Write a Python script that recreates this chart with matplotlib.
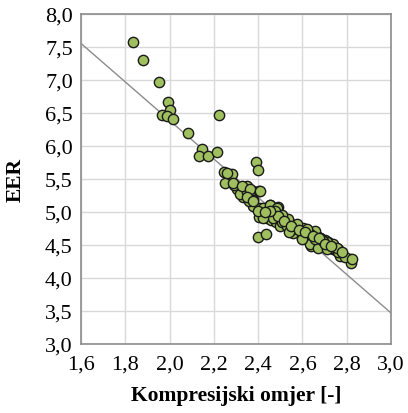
import numpy as np
import matplotlib.pyplot as plt

# compression ratio vs EER
kompresija = [1.836, 1.881, 1.951, 1.991, 2.002, 1.967, 1.99, 2.017, 2.223, 2.082,
              2.148, 2.134, 2.175, 2.216, 2.247, 2.28, 2.25, 2.306, 2.348, 2.333,
              2.378, 2.405, 2.39, 2.398, 2.376, 2.398, 2.434,
              2.438, 2.469, 2.453, 2.49, 2.51, 2.528, 2.559, 2.589, 2.62, 2.64,
              2.664, 2.686, 2.716, 2.755, 2.77, 2.815, 2.822, 2.597, 2.64, 2.559,
              2.54, 2.42, 2.405, 2.44, 2.46, 2.48, 2.50, 2.376, 2.36, 2.32,
              2.29, 2.35, 2.66, 2.70, 2.72, 2.74, 2.656, 2.59, 2.53, 2.57,
              2.68, 2.405, 2.41, 2.47, 2.54, 2.605, 2.625, 2.69, 2.74, 2.76,
              2.258, 2.288, 2.326, 2.363, 2.409, 2.348, 2.378, 2.423, 2.453, 2.484,
              2.439, 2.469, 2.506, 2.529, 2.559, 2.597, 2.635, 2.68, 2.71, 2.74,
              2.762, 2.792, 2.823, 2.635, 2.597, 2.672, 2.71, 2.62, 2.574, 2.536,
              2.506, 2.476, 2.423, 2.401, 2.54, 2.657, 2.694, 2.755, 2.778, 2.49,
              2.515, 2.55, 2.585, 2.61, 2.65, 2.675, 2.70, 2.73, 2.455, 2.43]
eer = [7.58, 7.30, 6.97, 6.66, 6.54, 6.47, 6.45, 6.41, 6.47, 6.19,
       5.95, 5.84, 5.84, 5.90, 5.61, 5.57, 5.44, 5.34, 5.39, 5.22,
       5.32, 5.32, 5.76, 5.63, 5.18, 4.62, 4.67,
       5.04, 4.96, 5.10, 5.08, 4.90, 4.81, 4.76, 4.71, 4.69, 4.56,
       4.64, 4.51, 4.54, 4.41, 4.33, 4.28, 4.23, 4.61, 4.48, 4.68,
       4.75, 4.96, 5.01, 4.91, 4.88, 4.85, 4.78, 5.09, 5.17, 5.27,
       5.41, 5.30, 4.53, 4.58, 4.48, 4.43, 4.71, 4.76, 4.88, 4.80,
       4.61, 4.92, 5.06, 5.06, 4.85, 4.76, 4.63, 4.58, 4.51, 4.43,
       5.59, 5.44, 5.39, 5.34, 5.32, 5.22, 5.17, 5.06, 5.11, 5.06,
       4.96, 4.91, 4.84, 4.79, 4.74, 4.69, 4.66, 4.61, 4.54, 4.46,
       4.39, 4.31, 4.28, 4.51, 4.59, 4.46, 4.44, 4.74, 4.81, 4.89,
       4.96, 5.01, 4.91, 5.01, 4.69, 4.59, 4.56, 4.46, 4.39, 4.93,
       4.86, 4.78, 4.73, 4.70, 4.64, 4.60, 4.52, 4.49, 5.02, 5.00]

# trend line end points
trend_x = [1.6, 3.0]
trend_y = [7.55, 3.47]

plt.rcParams['font.family'] = 'serif'
plt.rcParams['font.serif'] = ['Liberation Serif', 'DejaVu Serif']

fig = plt.figure(figsize=(4.08, 4.14), dpi=100)
ax = fig.add_axes([0.199, 0.167, 0.759, 0.797])

ax.plot(trend_x, trend_y, color='#8c8c8c', lw=1.0, zorder=2)
ax.scatter(kompresija, eer, s=55, c='#a0c060', edgecolors='#1a1a1a',
           linewidths=1.0, zorder=3)

xt = np.arange(1.6, 3.01, 0.2)
yt = np.arange(3.0, 8.01, 0.5)
ax.set_xlim(1.6, 3.0)
ax.set_ylim(3.0, 8.0)
ax.set_xticks(xt)
ax.set_yticks(yt)
ax.set_xticklabels([f'{v:.1f}'.replace('.', ',') for v in xt])
ax.set_yticklabels([f'{v:.1f}'.replace('.', ',') for v in yt])
ax.tick_params(labelsize=16, length=0)
ax.tick_params(axis='x', pad=8)
ax.tick_params(axis='y', pad=6)
ax.grid(True, color='#d9d9d9', lw=1.0)
ax.set_axisbelow(True)
for s in ax.spines.values():
    s.set_color('#8c8c8c')
    s.set_linewidth(1.2)

ax.set_xlabel('Kompresijski omjer [-]', fontsize=15.5, fontweight='bold', labelpad=8)
ax.set_ylabel('EER', fontsize=15.5, fontweight='bold', labelpad=14)

fig.savefig('out.png', dpi=100)
